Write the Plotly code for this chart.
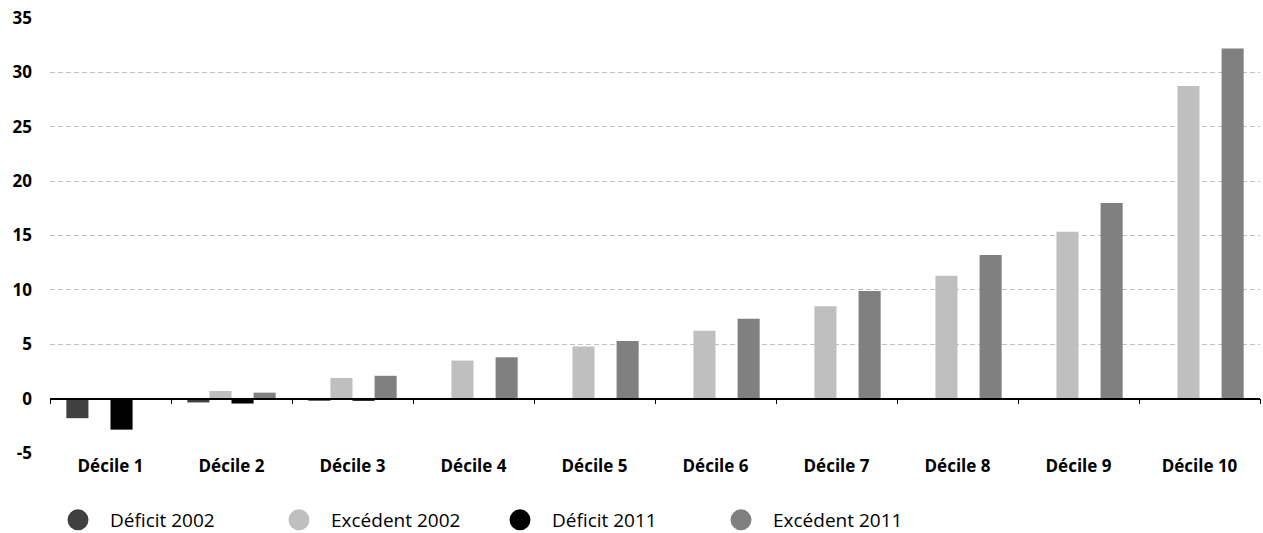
import plotly.graph_objects as go

categories = ["Décile 1", "Décile 2", "Décile 3", "Décile 4", "Décile 5",
              "Décile 6", "Décile 7", "Décile 8", "Décile 9", "Décile 10"]
deficit_2002 = [-1.8, -0.35, -0.2, -0.1, -0.1, -0.1, 0.0, 0.0, 0.0, 0.0]
excedent_2002 = [0.05, 0.7, 1.9, 3.5, 4.8, 6.25, 8.5, 11.3, 15.35, 28.75]
deficit_2011 = [-2.85, -0.45, -0.2, -0.1, -0.1, -0.1, 0.0, -0.1, 0.0, 0.0]
excedent_2011 = [0.05, 0.55, 2.1, 3.8, 5.3, 7.35, 9.9, 13.2, 18.0, 32.2]
y_ticks = [-5, 0, 5, 10, 15, 20, 25, 30, 35]
y_tick_labels = ["-5", "0", "5", "10", "15", "20", "25", "30", "35"]

series = [
    ("Déficit 2002", deficit_2002, "#404040"),
    ("Excédent 2002", excedent_2002, "#bfbfbf"),
    ("Déficit 2011", deficit_2011, "#000000"),
    ("Excédent 2011", excedent_2011, "#808080"),
]

FONT = "Open Sans"
fig = go.Figure()
for name, vals, col in series:
    fig.add_trace(go.Bar(x=categories, y=vals, name=name, marker_color=col,
                         marker_line_width=0, showlegend=False))
for name, vals, col in series:
    fig.add_trace(go.Scatter(x=[None], y=[None], mode="markers", name=name,
                             marker=dict(symbol="circle", size=20, color=col,
                                         line=dict(color=col, width=5)),
                             xaxis="x2", showlegend=True))

fig.update_layout(
    width=1263, height=533,
    margin=dict(l=50, r=3, t=18, b=80),
    plot_bgcolor="white", paper_bgcolor="white",
    barmode="group", bargap=0.27, bargroupgap=0,
    font=dict(family=FONT, color="black"),
    xaxis=dict(type="category", categoryorder="array", categoryarray=categories,
               range=[-0.5, 9.5], showgrid=False, showline=False, zeroline=False,
               ticks="", tickfont=dict(family=FONT, size=17, weight="bold"),
               ticklabelstandoff=1),
    xaxis2=dict(overlaying="x", anchor="free", position=0.125, range=[-0.5, 9.5],
                tickmode="array", tickvals=[i - 0.5 for i in range(11)],
                showticklabels=False, ticks="outside", ticklen=5, tickcolor="black",
                showline=True, linecolor="black", linewidth=1.5, showgrid=False,
                zeroline=False),
    yaxis=dict(range=[-5, 35], tickmode="array", tickvals=y_ticks,
               ticktext=y_tick_labels, showgrid=True, gridcolor="#c0c0c0",
               griddash="5px,3px", gridwidth=1, zeroline=False, showline=False,
               tickfont=dict(family=FONT, size=17, weight="bold"),
               ticklabelstandoff=17),
    legend=dict(orientation="h", xref="container", yref="container",
                x=46 / 1263, y=13 / 533, xanchor="left", yanchor="middle",
                font=dict(family=FONT, size=19), itemsizing="trace",
                itemwidth=54, entrywidth=152),
)
fig.write_html("out.html")
